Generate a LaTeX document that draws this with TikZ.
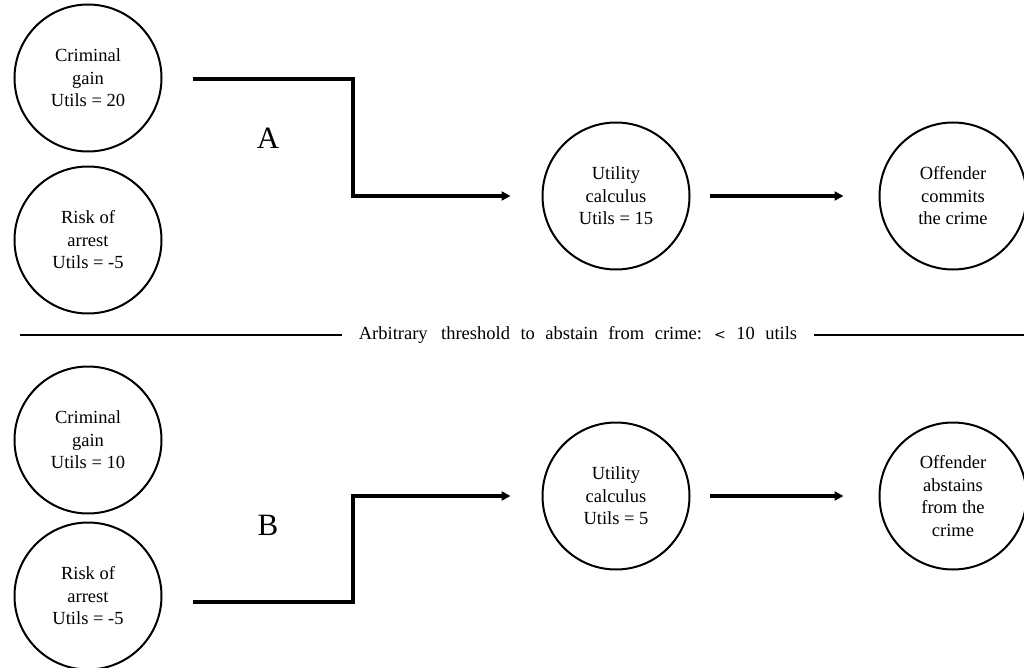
\documentclass[tikz,border=0pt]{standalone}
\usepackage{fontspec}
\setmainfont{Liberation Serif}
\usetikzlibrary{arrows.meta}
\begin{document}
\begin{tikzpicture}[x=1pt,y=-1pt,
  bubble/.style={circle, draw=black, line width=2pt, minimum size=147pt, inner sep=0pt, align=center,
    font=\fontsize{18.5}{22.5}\selectfont},
  conn/.style={line width=3.2pt, draw=black},
  arr/.style={conn, -{Triangle[length=9pt,width=9pt]}},
  biglabel/.style={font=\fontsize{31}{36}\selectfont, inner sep=0pt},
  rule/.style={line width=2.4pt, draw=black}
]
\useasboundingbox (0,0) rectangle (1024,668);

% Scenario A
\node[bubble] (cgA) at (88,78) {Criminal\\gain\\Utils = 20};
\node[bubble] (raA) at (88,240) {Risk of\\arrest\\Utils = -5};
\node[bubble] (ucA) at (616,196) {Utility\\calculus\\Utils = 15};
\node[bubble] (ofA) at (953,196) {Offender\\commits\\the crime};
\node[biglabel] (lA) at (268,138) {A};
\coordinate (jA) at (353,196);
\draw[arr, shorten <=30pt, shorten >=31pt] ([yshift=-1pt]cgA.east) -| (jA) -- (ucA.west);
\draw[arr, shorten <=19pt, shorten >=35pt] (ucA.east) -- (ofA.west);

% Threshold
\coordinate (lL) at (20,335);
\coordinate (lR) at (1024,335);
\node[font=\fontsize{18.5}{22}\selectfont, inner xsep=17pt, inner ysep=0pt] (thr) at (578,335)
  {\spaceskip=10.5pt plus 1pt Arbitrary\hspace{3pt} threshold to abstain from crime: {\fontspec{DejaVu Serif}\fontsize{14}{16}\selectfont <} 10 utils};
\draw[rule] (lL) -- (thr.west);
\draw[rule] (thr.east) -- (lR);

% Scenario B
\node[bubble] (cgB) at (88,440) {Criminal\\gain\\Utils = 10};
\node[bubble] (raB) at (88,596) {Risk of\\arrest\\Utils = -5};
\node[bubble] (ucB) at (616,496) {Utility\\calculus\\Utils = 5};
\node[bubble] (ofB) at (953,496) {Offender\\abstains\\from the\\crime};
\node[biglabel] (lB) at (268,525) {B};
\coordinate (jB) at (353,496);
\draw[arr, shorten <=30pt, shorten >=31pt] ([yshift=-6pt]raB.east) -| (jB) -- (ucB.west);
\draw[arr, shorten <=19pt, shorten >=35pt] (ucB.east) -- (ofB.west);
\end{tikzpicture}
\end{document}
